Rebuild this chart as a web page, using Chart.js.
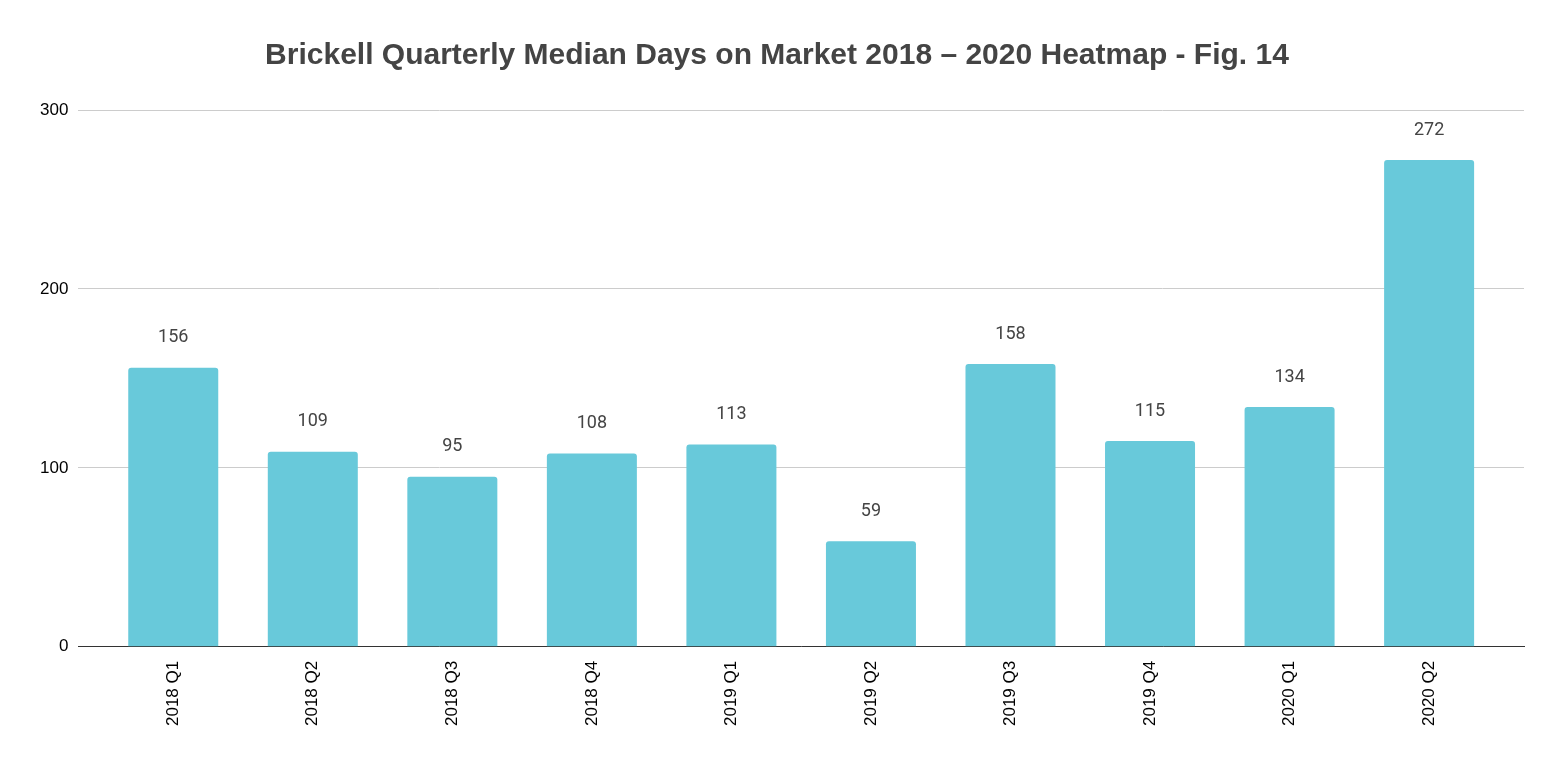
<!DOCTYPE html>
<html>
<head>
<meta charset="utf-8">
<script src="https://cdn.jsdelivr.net/npm/chart.js@4"></script>
<style>
  html, body { margin: 0; padding: 0; background: #fff; }
  #wrap { width: 1563px; height: 763px; }
</style>
</head>
<body>
<div id="wrap"><canvas id="chart" width="1563" height="763"></canvas></div>
<script>
const quarters = ["2018 Q1", "2018 Q2", "2018 Q3", "2018 Q4", "2019 Q1", "2019 Q2", "2019 Q3", "2019 Q4", "2020 Q1", "2020 Q2"];
const medianDays = [156, 109, 95, 108, 113, 59, 158, 115, 134, 272];
const yTicks = [0, 100, 200, 300];

// draws the number above each bar
const barLabels = {
    id: 'barLabels',
    afterDatasetsDraw(chart) {
        const ctx = chart.ctx;
        const meta = chart.getDatasetMeta(0);
        ctx.save();
        ctx.font = '18px Roboto';
        ctx.fillStyle = '#444444';
        ctx.textAlign = 'center';
        ctx.textBaseline = 'middle';
        meta.data.forEach((bar, i) => {
            ctx.fillText(medianDays[i], bar.x, bar.y - 30);
        });
        ctx.restore();
    }
};

// x as numeric positions so the bars keep some room at both ends of the axis
const points = medianDays.map((v, i) => ({ x: i, y: v }));

const ctx = document.getElementById('chart').getContext('2d');
new Chart(ctx, {
    type: 'bar',
    data: {
        datasets: [{
            data: points,
            backgroundColor: '#68c9da',
            borderRadius: 3,
            borderSkipped: 'bottom',
            barPercentage: 0.645,
            categoryPercentage: 1
        }]
    },
    plugins: [barLabels],
    options: {
        responsive: false,
        animation: false,
        layout: { padding: { left: 30, right: 39, top: 0, bottom: 31 } },
        plugins: {
            legend: { display: false },
            tooltip: { enabled: false },
            title: {
                display: true,
                text: 'Brickell Quarterly Median Days on Market 2018 \u2013 2020 Heatmap - Fig. 14',
                color: '#444444',
                font: { family: 'Liberation Sans', size: 30, weight: 'bold' },
                padding: { top: 38, bottom: 36 }
            }
        },
        scales: {
            x: {
                type: 'linear',
                offset: false,
                min: -0.68,
                max: quarters.length - 1 + 0.68,
                afterBuildTicks(axis) {
                    axis.ticks = quarters.map((q, i) => ({ value: i }));
                },
                grid: { display: false },
                border: { color: '#333333' },
                ticks: {
                    color: '#000000',
                    font: { family: 'Liberation Sans', size: 17 },
                    minRotation: 90,
                    maxRotation: 90,
                    autoSkip: false,
                    padding: 6,
                    callback: (v) => quarters[v]
                }
            },
            y: {
                min: 0,
                max: 300,
                afterBuildTicks(axis) {
                    axis.ticks = yTicks.map(v => ({ value: v }));
                },
                grid: { color: '#cccccc', drawTicks: false },
                border: { display: false },
                ticks: {
                    color: '#000000',
                    font: { family: 'Liberation Sans', size: 17 },
                    padding: 10
                }
            }
        }
    }
});
</script>
</body>
</html>
